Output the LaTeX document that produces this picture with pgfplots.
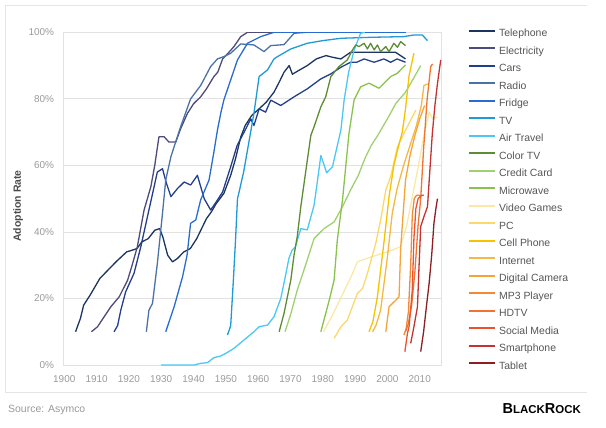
\documentclass[border=0pt]{standalone}
\usepackage{pgfplots}
\pgfplotsset{compat=1.18}
\usepackage{fontspec}
\setmainfont{Liberation Sans}

\definecolor{tickgray}{HTML}{9A9A9A}
\definecolor{gridgray}{HTML}{E2E2E2}
\definecolor{labelgray}{HTML}{4A4A4A}
\definecolor{legendgray}{HTML}{555555}
\definecolor{cTelephone}{HTML}{1B355E}
\definecolor{cElectricity}{HTML}{4D4B7C}
\definecolor{cCars}{HTML}{233F8C}
\definecolor{cRadio}{HTML}{4B72A5}
\definecolor{cFridge}{HTML}{2A6BD0}
\definecolor{cTV}{HTML}{1F9AD6}
\definecolor{cAir}{HTML}{4CC7F4}
\definecolor{cColorTV}{HTML}{5E8C34}
\definecolor{cCredit}{HTML}{A0D070}
\definecolor{cMicro}{HTML}{8AC24E}
\definecolor{cVideo}{HTML}{FBE8A6}
\definecolor{cPC}{HTML}{FBD86C}
\definecolor{cCell}{HTML}{F7C200}
\definecolor{cInternet}{HTML}{F5B745}
\definecolor{cCamera}{HTML}{F6A33A}
\definecolor{cMP3}{HTML}{F28A35}
\definecolor{cHDTV}{HTML}{F07332}
\definecolor{cSocial}{HTML}{EC5130}
\definecolor{cSmart}{HTML}{C43232}
\definecolor{cTablet}{HTML}{8E1E22}

\begin{document}
\begin{tikzpicture}
\path[use as bounding box] (0bp,0bp) rectangle (606bp,-428bp);
\draw[draw=black!10, line width=0.8bp] (587bp,-5bp) -- (5bp,-5bp) -- (5bp,-392bp) -- (587bp,-392bp);
\begin{axis}[
  at={(63.3bp,-365bp)}, anchor=south west,
  scale only axis, width=378.4bp, height=332.7bp,
  xmin=1899.7, xmax=2016.8, ymin=0, ymax=100,
  xtick={1900,1910,...,2010},
  xticklabels={1900,1910,1920,1930,1940,1950,1960,1970,1980,1990,2000,2010},
  ytick={0,20,...,100},
  yticklabels={0\%,20\%,40\%,60\%,80\%,100\%},
  major tick length=0pt,
  tick label style={font=\fontsize{10}{12}\selectfont, text=tickgray},
  xticklabel style={anchor=center, yshift=-14bp, inner sep=0pt},
  yticklabel style={anchor=east, xshift=-9bp, inner sep=0pt},
  ymajorgrids, grid style={draw=gridgray, line width=0.8bp},
  axis line style={draw=gridgray, line width=0.8bp},
  ylabel={Adoption Rate},
  ylabel style={at={(axis description cs:-0.1195,0.478)}, anchor=center,
    font=\bfseries\fontsize{10.5}{12}\selectfont, text=labelgray},
  every axis plot/.append style={line width=1.3bp, line join=round},
  legend cell align=left,
  legend image code/.code={\draw[#1, line width=1.9bp] (0bp,3.5bp) -- (26bp,3.5bp);},
  legend style={draw=none, fill=none, inner sep=0pt, outer sep=0pt,
    at={(1.0687,1.0075)}, anchor=north west, row sep=8.5bp, column sep=3.5bp,
    font=\fontsize{10.5}{12}\selectfont, text=legendgray,
    nodes={inner sep=0pt, text height=7bp, text depth=2bp}},
]
% Telephone
\addplot[cTelephone] coordinates {(1903.5,10)(1905,14)(1906,18)(1908,21)(1911,26)(1913.5,28.5)(1916,31)(1919.3,34)(1921,34.5)(1922.5,35)(1924,37)(1926,38)(1928,40.5)(1929.5,41)(1930.5,38.5)(1932,33)(1933.5,31)(1935,32)(1937,34)(1939,35)(1941,38)(1942.5,41)(1944,44)(1945.5,46)(1947,48.5)(1949.4,51.6)(1951.5,57)(1953,62)(1954.6,68.5)(1956,72)(1958,75)(1960.3,77)(1962.5,79)(1964.9,82)(1966.5,85)(1968,88)(1969.6,90)(1970.6,87.4)(1972.5,88.5)(1975.2,90)(1978,92)(1981,93)(1983,92.5)(1985.6,92)(1988.6,94)(1995,94)(2002.5,94)(2005.6,92)};
% Electricity
\addplot[cElectricity] coordinates {(1908.4,10)(1910.3,11.5)(1912,14)(1914.4,17.5)(1917,20.5)(1919.6,25.5)(1921,30)(1922.6,35.5)(1924.7,46.6)(1926.8,53.6)(1928,60)(1929.3,68.6)(1930.9,68.6)(1932.4,67)(1934.5,67)(1936,71)(1938.1,75.6)(1940,78.5)(1942.2,80.6)(1944,83)(1946.3,86.7)(1947.5,88)(1949,92)(1950.5,93.5)(1952.5,95.7)(1954.6,98.7)(1956.7,100)(2005.6,100)};
% Cars
\addplot[cCars] coordinates {(1915.4,10)(1916.5,11.8)(1917.5,16.5)(1919,22)(1921.6,27.6)(1923.7,35.6)(1926.2,46.6)(1927.8,53.6)(1928.8,58)(1930.4,59)(1931.5,55)(1933,50.6)(1935,53)(1937.1,55)(1939.1,54.1)(1941.2,57)(1943.3,50)(1945.3,46.6)(1947,49)(1949,52)(1951.5,59.6)(1953.5,66)(1956.2,71)(1957.7,74)(1958.7,72)(1960.3,77)(1962.3,76)(1963.9,79.6)(1967,78)(1971.1,80.6)(1975.2,83)(1979.4,86)(1982.5,87.5)(1985.6,89.5)(1988.6,91)(1990.5,91)(1992.8,92)(1995.9,91)(1998.9,92)(2001,91)(2003,92)(2005.6,91)};
% Radio
\addplot[cRadio] coordinates {(1925.4,10)(1926.2,16.5)(1927.3,18.5)(1928.8,30.5)(1930.4,45.6)(1931.4,55.6)(1933,62.6)(1936,71.6)(1939.1,80)(1942.2,84)(1945.3,89.7)(1947.4,92)(1949.4,92.7)(1951.5,93.7)(1954.6,96.5)(1958.7,96.2)(1961.8,94.2)(1963.9,96)(1968,96.3)(1971.1,99.7)(1975,100)(2005.6,100)};
% Fridge
\addplot[cFridge] coordinates {(1931.4,10)(1934,17.5)(1936.6,26.5)(1938,33)(1939.1,42.6)(1940.7,43.6)(1942.2,49.6)(1944.8,55.6)(1946.3,64)(1947.4,70.6)(1948.5,76)(1949.4,79.7)(1951.5,85.7)(1953.6,91.7)(1956.7,96.7)(1960.8,98.7)(1964.9,100)(2005.6,100)};
% TV
\addplot[cTV] coordinates {(1950.5,9)(1951.5,11.8)(1952.3,25)(1953,37.6)(1953.6,50)(1954.1,52)(1955.5,58)(1956.7,64.6)(1958.7,75.7)(1960.3,86.7)(1962.9,88.7)(1964.9,92)(1966,92.7)(1970.1,95)(1975.2,96.7)(1980,97.5)(1985.6,98.2)(1995,98.5)(2005,98.7)(2008.2,99.2)(2010.8,99.2)(2012.4,97.5)};
% Air Travel
\addplot[cAir] coordinates {(1929.9,0)(1940.2,0)(1942.2,0.5)(1944.3,0.7)(1946.3,2.2)(1948.4,2.7)(1950,3.5)(1952.5,5)(1955.6,7.5)(1958.7,10)(1960.3,11.5)(1962.9,12)(1964.9,14.5)(1967,20)(1968.5,27)(1969.5,32)(1970.5,34.5)(1971.5,35.5)(1973.2,41)(1975.2,40.6)(1977.3,48)(1978.3,55)(1979.4,63)(1981.2,57.8)(1983,59.6)(1985.6,70.6)(1986.6,79.6)(1988,88)(1989.7,94.7)(1991.7,99.7)(1993,100)};
% Color TV
\addplot[cColorTV] coordinates {(1966.5,10)(1968,15.5)(1970.1,25.5)(1971.1,33)(1972.1,38.6)(1973.2,47.6)(1974.7,58)(1976.3,69)(1977.3,71.6)(1979.4,77.6)(1980.9,80.6)(1982.5,86.7)(1985,89.7)(1987.6,91.7)(1989.2,94.7)(1990.2,96.2)(1991.2,95.7)(1992.8,96.7)(1993.8,95)(1994.8,96.7)(1995.9,94.7)(1996.9,96.2)(1997.9,94.2)(1999.5,95.7)(2000.5,94.2)(2002,96.7)(2003.1,95.5)(2004.1,97.2)(2005.6,96)};
% Credit Card
\addplot[cCredit] coordinates {(1968.3,10)(1970,15)(1972.1,22.5)(1975,31)(1977.3,38)(1980.4,41)(1983.5,43)(1986.1,47.6)(1988.6,52.6)(1991,57)(1993,62)(1995,66)(1997,69)(2000,74)(2002.6,78.6)(2005.6,82)(2008,86)(2010.3,90)};
% Microwave
\addplot[cMicro] coordinates {(1979.4,10)(1982,19.5)(1983.5,25.5)(1984.5,37.6)(1986.1,49.6)(1988.1,69.6)(1989.7,79.7)(1991.7,83.6)(1994.3,84.7)(1997.4,83.2)(2001,86.7)(2003.1,87.7)(2005.6,90.2)};
% Video Games
\addplot[cVideo] coordinates {(1980.2,10)(1983,15)(1986,21)(1989,27)(1990.7,31)(1995,32.5)(2000,34)(2004,35.5)(2006,42)(2008,52)(2010,62)(2011.5,70)(2013,76)(2014,74)(2015.5,74.5)};
% PC
\addplot[cPC] coordinates {(1983.5,8)(1985.6,11.5)(1987.6,13.5)(1990.7,21.5)(1992.3,23)(1993.8,27.5)(1996.4,36.6)(1997.9,43.6)(1999.5,52.6)(2001,56.6)(2003.1,65.6)(2005.6,70.6)(2008.8,76.6)};
% Cell Phone
\addplot[cCell] coordinates {(1994.3,10)(1995.5,13)(1996.9,20.5)(1998.9,36.6)(2000.5,50.6)(2002,60)(2003.5,66)(2004.6,70)(2005.6,77)(2006.7,87)(2008.2,93.7)};
% Internet
\addplot[cInternet] coordinates {(1995.4,10)(1996.5,12)(1997.9,16.5)(2000,32.5)(2001.5,45.6)(2003,53)(2005,60)(2007,66)(2009,72)(2010.5,78)(2011.3,84)(2012.5,84.5)};
% Digital Camera
\addplot[cCamera] coordinates {(1999.5,10)(2000.5,17.5)(2002.6,19.5)(2003.6,20.5)(2004.1,35)(2005.6,55.6)(2007,63)(2008.5,69)(2010,74)(2011.5,78)};
% MP3 Player
\addplot[cMP3] coordinates {(2005.1,9)(2005.8,11)(2006.5,16)(2007.2,30)(2007.7,45)(2008.3,50)(2009,51)(2010.3,51)};
% HDTV
\addplot[cHDTV] coordinates {(2005.6,10)(2006.5,12.5)(2007.5,18)(2008.5,28)(2009.5,42)(2010.3,50)(2011.2,65)(2012.3,80)(2013.4,89.7)(2014,90.5)};
% Social Media
\addplot[cSocial] coordinates {(2005.4,4)(2006.2,9.5)(2006.7,11.5)(2007.7,22.5)(2008.2,38)(2008.8,47)(2009.5,50)(2010.6,51)(2011.3,51)};
% Smartphone
\addplot[cSmart] coordinates {(2007.2,6.5)(2008.2,11.5)(2009.3,17.5)(2009.8,30)(2010.3,41.6)(2011.3,44.6)(2012.4,47.6)(2013.1,58)(2013.9,69.6)(2014.7,78)(2015.5,84.7)(2016.5,91.7)};
% Tablet
\addplot[cTablet] coordinates {(2010.3,4)(2011.2,10)(2012,17)(2012.9,24.5)(2013.7,33)(2014.4,42.6)(2015,47)(2015.5,50)};
\legend{Telephone,Electricity,Cars,Radio,Fridge,TV,Air Travel,Color TV,Credit Card,Microwave,Video Games,PC,Cell Phone,Internet,Digital Camera,MP3 Player,HDTV,Social Media,Smartphone,Tablet}
\end{axis}
\node[anchor=west, inner sep=0pt, text=tickgray, font=\fontsize{10.5}{12}\selectfont] at (8bp,-410bp) {Source: Asymco};
\node[anchor=base east, inner sep=0pt, font=\bfseries] at (581bp,-413.5bp)
  {\fontsize{14.5}{15}\selectfont B\fontsize{11.5}{12}\selectfont LACK\fontsize{14.5}{15}\selectfont R\fontsize{11.5}{12}\selectfont OCK};
\end{tikzpicture}
\end{document}
